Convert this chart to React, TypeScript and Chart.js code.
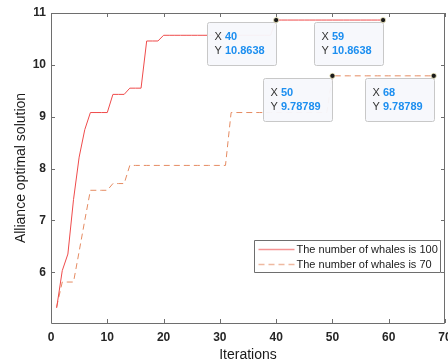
import React, { useEffect, useRef } from 'react';
import { Chart, registerables } from 'chart.js';

Chart.register(...registerables);

const FONT = '"Liberation Sans", Arial, Helvetica, sans-serif';

// Series: number of whales is 100 (iterations 1..59)
const whales100 = [
  5.31, 6.03, 6.35, 7.4, 8.22, 8.75, 9.08, 9.08, 9.08, 9.08,
  9.43, 9.43, 9.43, 9.55, 9.55, 9.55, 10.46, 10.46, 10.46, 10.57,
  10.57, 10.57, 10.57, 10.57, 10.57, 10.57, 10.57, 10.57, 10.57, 10.57,
  10.57, 10.57, 10.57, 10.57, 10.57, 10.57, 10.57, 10.57, 10.57, 10.8638,
  10.8638, 10.8638, 10.8638, 10.8638, 10.8638, 10.8638, 10.8638, 10.8638, 10.8638, 10.8638,
  10.8638, 10.8638, 10.8638, 10.8638, 10.8638, 10.8638, 10.8638, 10.8638, 10.8638,
];

// Series: number of whales is 70 (iterations 1..68)
const whales70 = [
  5.33, 5.81, 5.81, 5.81, 6.4, 7.0, 7.58, 7.58, 7.58, 7.58,
  7.71, 7.71, 7.71, 8.06, 8.06, 8.06, 8.06, 8.06, 8.06, 8.06,
  8.06, 8.06, 8.06, 8.06, 8.06, 8.06, 8.06, 8.06, 8.06, 8.06,
  8.06, 9.08, 9.08, 9.08, 9.08, 9.08, 9.08, 9.08, 9.08, 9.08,
  9.08, 9.08, 9.08, 9.08, 9.08, 9.08, 9.08, 9.08, 9.08, 9.78789,
  9.78789, 9.78789, 9.78789, 9.78789, 9.78789, 9.78789, 9.78789, 9.78789, 9.78789, 9.78789,
  9.78789, 9.78789, 9.78789, 9.78789, 9.78789, 9.78789, 9.78789, 9.78789,
];

const seriesLabels = ['The number of whales is 100', 'The number of whales is 70'];
const seriesColors = ['#ef4b4b', '#e58b62'];

const xTicks = [0, 10, 20, 30, 40, 50, 60, 70];
const yTicks = [6, 7, 8, 9, 10, 11];

// Data tips
const tipX = [40, 59, 50, 68];
const tipY = [10.8638, 10.8638, 9.78789, 9.78789];
const tipText = ['10.8638', '10.8638', '9.78789', '9.78789'];

const toPoints = (vals: number[]) => vals.map((v, i) => ({ x: i + 1, y: v }));

const framePlugin = {
  id: 'frameTicks',
  beforeDatasetsDraw(chart: any) {
    const { ctx, chartArea: a, scales } = chart;
    const xs = scales.x, ys = scales.y;
    ctx.save();
    ctx.strokeStyle = '#6e6e6e';
    ctx.lineWidth = 1;
    ctx.beginPath();
    ctx.rect(Math.round(a.left) + 0.5, Math.round(a.top) + 0.5, Math.round(a.right - a.left) - 1, Math.round(a.bottom - a.top));
    ctx.stroke();
    const tl = 4;
    ctx.beginPath();
    xTicks.forEach((t) => {
      const px = Math.round(xs.getPixelForValue(t)) + 0.5;
      ctx.moveTo(px, a.bottom);
      ctx.lineTo(px, a.bottom - tl);
      ctx.moveTo(px, a.top);
      ctx.lineTo(px, a.top + tl);
    });
    yTicks.forEach((t) => {
      const py = Math.round(ys.getPixelForValue(t)) + 0.5;
      ctx.moveTo(a.left, py);
      ctx.lineTo(a.left + tl, py);
      ctx.moveTo(a.right, py);
      ctx.lineTo(a.right - tl, py);
    });
    ctx.stroke();
    ctx.restore();
  },
};

const overlayPlugin = {
  id: 'overlay',
  afterDraw(chart: any) {
    const { ctx, scales } = chart;
    const xs = scales.x, ys = scales.y;
    ctx.save();
    // Data tips
    for (let i = 0; i < tipX.length; i++) {
      const px = xs.getPixelForValue(tipX[i]);
      const py = ys.getPixelForValue(tipY[i]);
      const w = 69, h = 43;
      const bx = Math.round(px - w) + 0.5;
      const by = Math.round(py + 2) + 0.5;
      ctx.fillStyle = 'rgba(247,248,252,0.96)';
      ctx.strokeStyle = '#c8c8c8';
      ctx.lineWidth = 1;
      ctx.beginPath();
      (ctx as any).roundRect ? (ctx as any).roundRect(bx, by, w, h, 2) : ctx.rect(bx, by, w, h);
      ctx.fill();
      ctx.stroke();
      ctx.textBaseline = 'middle';
      ctx.textAlign = 'left';
      const rows: [string, string][] = [['X', String(tipX[i])], ['Y', tipText[i]]];
      rows.forEach(([lab, val], r) => {
        const ty = by + 14.5 + r * 13.5;
        ctx.font = `11px ${FONT}`;
        ctx.fillStyle = '#333333';
        ctx.fillText(lab, bx + 7, ty);
        const lw = ctx.measureText(lab + ' ').width;
        ctx.font = `bold 11px ${FONT}`;
        ctx.fillStyle = '#1d8ff0';
        ctx.fillText(val, bx + 7 + lw, ty);
      });
      // marker
      ctx.beginPath();
      ctx.arc(px, py, 2.6, 0, Math.PI * 2);
      ctx.fillStyle = '#1a1a1a';
      ctx.fill();
      ctx.strokeStyle = 'rgba(255,250,200,0.9)';
      ctx.lineWidth = 0.8;
      ctx.stroke();
    }
    // Legend
    const lx = 254.5, ly = 240.5, lw = 186, lh = 32;
    ctx.fillStyle = '#ffffff';
    ctx.strokeStyle = '#6e6e6e';
    ctx.lineWidth = 1;
    ctx.beginPath();
    ctx.rect(lx, ly, lw, lh);
    ctx.fill();
    ctx.stroke();
    chart.data.datasets.forEach((ds: any, i: number) => {
      const yy = ly + 9 + i * 15;
      ctx.strokeStyle = ds.borderColor;
      ctx.globalAlpha = 0.6;
      ctx.lineWidth = 1.5;
      ctx.setLineDash(ds.borderDash || []);
      ctx.beginPath();
      ctx.moveTo(lx + 4, yy);
      ctx.lineTo(lx + 40, yy);
      ctx.stroke();
      ctx.setLineDash([]);
      ctx.globalAlpha = 1;
      ctx.font = `11px ${FONT}`;
      ctx.fillStyle = '#1a1a1a';
      ctx.textBaseline = 'middle';
      ctx.textAlign = 'left';
      ctx.fillText(ds.label, lx + 42, yy);
    });
    ctx.restore();
  },
};

export default function App() {
  const ref = useRef<HTMLCanvasElement | null>(null);
  useEffect(() => {
    document.body.style.margin = '0';
    if (!ref.current) return;
    const chart = new Chart(ref.current, {
      type: 'line',
      data: {
        datasets: [
          {
            label: seriesLabels[0],
            data: toPoints(whales100),
            borderColor: seriesColors[0],
            borderWidth: 1,
            pointRadius: 0,
            tension: 0,
            fill: false,
          },
          {
            label: seriesLabels[1],
            data: toPoints(whales70),
            borderColor: seriesColors[1],
            borderWidth: 1,
            borderDash: [6, 4],
            pointRadius: 0,
            tension: 0,
            fill: false,
          },
        ],
      },
      options: {
        responsive: false,
        animation: false,
        layout: { padding: { left: 0, top: 13, right: 3, bottom: 0 } },
        plugins: { legend: { display: false }, tooltip: { enabled: false } },
        scales: {
          x: {
            type: 'linear',
            min: 0,
            max: 70,
            afterBuildTicks: (s: any) => { s.ticks = xTicks.map((v) => ({ value: v })); },
            afterFit: (s: any) => { s.height = 41; s.paddingLeft = 0; s.paddingRight = 0; },
            grid: { display: false, drawTicks: false },
            border: { display: false },
            ticks: { color: '#262626', font: { family: FONT, size: 12, weight: 'bold' }, padding: 7, maxRotation: 0 },
            title: { display: true, text: 'Iterations', color: '#1a1a1a', font: { family: FONT, size: 14 }, padding: { top: 0, bottom: 0 } },
          },
          y: {
            type: 'linear',
            min: 5.02,
            max: 11,
            afterBuildTicks: (s: any) => { s.ticks = yTicks.map((v) => ({ value: v })); },
            afterFit: (s: any) => { s.width = 51; s.paddingTop = 0; s.paddingBottom = 0; },
            grid: { display: false, drawTicks: false },
            border: { display: false },
            ticks: { color: '#262626', font: { family: FONT, size: 12, weight: 'bold' }, padding: 5 },
            title: { display: true, text: 'Alliance optimal solution', color: '#1a1a1a', font: { family: FONT, size: 14 }, padding: { top: 13, bottom: 0 } },
          },
        },
      },
      plugins: [framePlugin, overlayPlugin],
    } as any);
    return () => chart.destroy();
  }, []);
  return (
    <div style={{ position: 'fixed', left: 0, top: 0, width: 448, height: 364, background: '#fff' }}>
      <canvas ref={ref} width={448} height={364} style={{ display: 'block' }} />
    </div>
  );
}
